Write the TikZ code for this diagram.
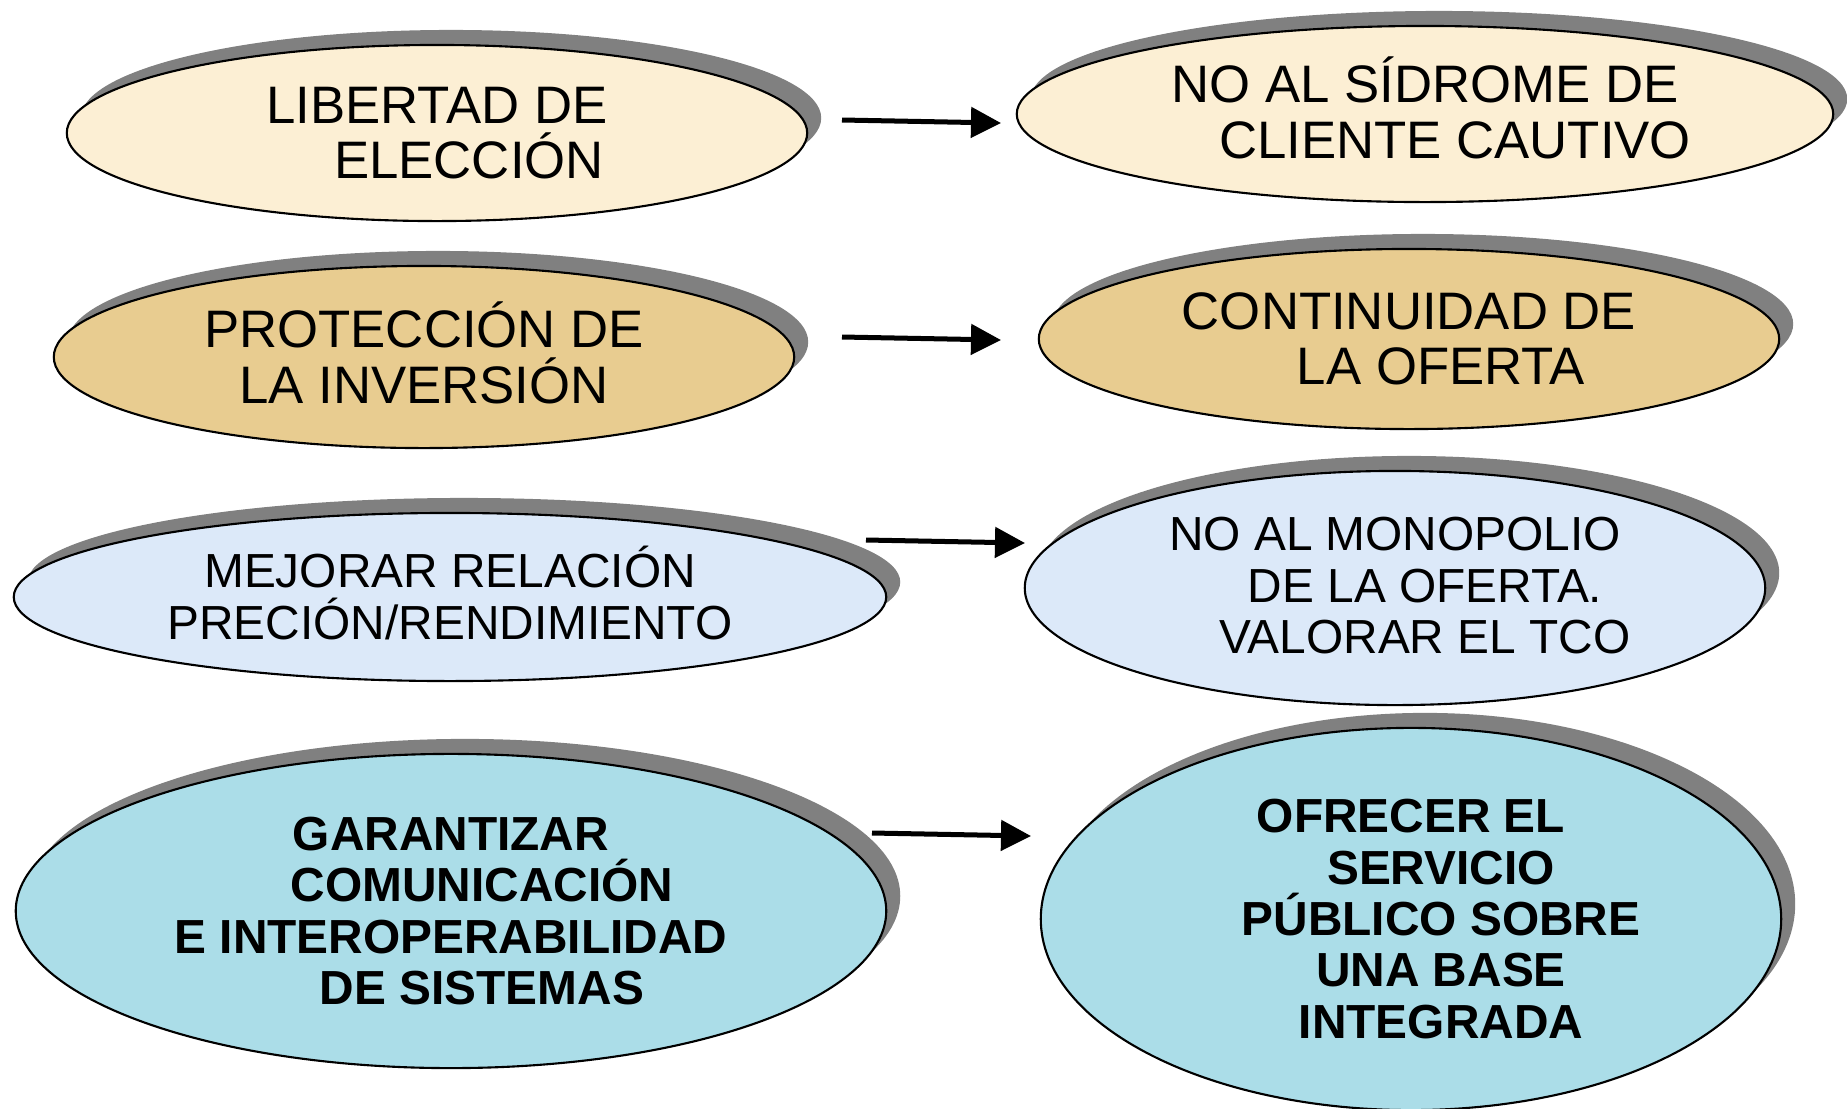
\documentclass[tikz,border=0pt]{standalone}
\usepackage{fontspec}
\setmainfont{Liberation Sans}
\usetikzlibrary{shapes.geometric,shadows,arrows.meta}

\definecolor{crema}{HTML}{FCEFD4}
\definecolor{papiro}{HTML}{E8CC90}
\definecolor{celeste}{HTML}{DCE9F9}
\definecolor{agua}{HTML}{ABDDE8}

\tikzset{
  elipse/.style={ellipse, draw=black, line width=0.6pt, inner sep=0pt, align=center,
    drop shadow={shadow xshift=0.14cm, shadow yshift=0.15cm, fill=gray, opacity=1}},
  grande/.style={font=\fontsize{15}{15.8}\selectfont},
  chico/.style={font=\fontsize{13.6}{14.6}\selectfont},
  negrita/.style={font=\fontsize{13.6}{14.6}\selectfont\bfseries},
  flecha/.style={-{Triangle[length=0.3cm,width=0.3cm]}, line width=0.05cm}
}

\begin{document}
\begin{tikzpicture}[x=0.01cm, y=-0.01cm]
\useasboundingbox (0,0) rectangle (1847,1108);

\node[elipse, grande, fill=crema, minimum width=7.4cm, minimum height=1.76cm] (libertad) at (437,133)
  {LIBERTAD DE\\\hspace*{0.64cm}ELECCIÓN};
\node[elipse, grande, fill=crema, minimum width=8.16cm, minimum height=1.76cm] (cautivo) at (1425,114)
  {NO AL SÍDROME DE\\\hspace*{0.6cm}CLIENTE CAUTIVO\rule[-3.5pt]{0pt}{3.5pt}};
\node[elipse, grande, fill=papiro, minimum width=7.4cm, minimum height=1.82cm] (proteccion) at (424,357)
  {PROTECCIÓN DE\\LA INVERSIÓN\rule[-2.4pt]{0pt}{2.4pt}};
\node[elipse, grande, fill=papiro, minimum width=7.4cm, minimum height=1.8cm] (continuidad) at (1409,339)
  {CONTINUIDAD DE\\\hspace*{0.64cm}LA OFERTA};
\node[elipse, chico, fill=celeste, minimum width=8.72cm, minimum height=1.68cm] (mejorar) at (450,597)
  {MEJORAR RELACIÓN\\PRECIÓN/RENDIMIENTO\rule[-2.4pt]{0pt}{2.4pt}};
\node[elipse, chico, fill=celeste, minimum width=7.4cm, minimum height=2.34cm] (monopolio) at (1395,588)
  {NO AL MONOPOLIO\\\hspace*{0.6cm}DE LA OFERTA.\\\hspace*{0.6cm}VALORAR EL TCO\rule[-1.4pt]{0pt}{1.4pt}};
\node[elipse, negrita, fill=agua, minimum width=8.7cm, minimum height=3.14cm] (garantizar) at (451,911)
  {GARANTIZAR\\\hspace*{0.62cm}COMUNICACIÓN\\E INTEROPERABILIDAD\\\hspace*{0.62cm}DE SISTEMAS};
\node[elipse, negrita, fill=agua, minimum width=7.4cm, minimum height=3.82cm] (servicio) at (1411,919)
  {OFRECER EL\\\hspace*{0.6cm}SERVICIO\\\hspace*{0.6cm}PÚBLICO SOBRE\\\hspace*{0.6cm}UNA BASE\\\hspace*{0.6cm}INTEGRADA};

\coordinate (s1) at (842,120);  \coordinate (e1) at (1001,123);
\coordinate (s2) at (842,337);  \coordinate (e2) at (1001,340);
\coordinate (s3) at (866,540);  \coordinate (e3) at (1025,543);
\coordinate (s4) at (872,833);  \coordinate (e4) at (1031,836);

\foreach \a/\b in {s1/e1, s2/e2, s3/e3, s4/e4}
  \draw[flecha] (\a) -- (\b);
\end{tikzpicture}
\end{document}
